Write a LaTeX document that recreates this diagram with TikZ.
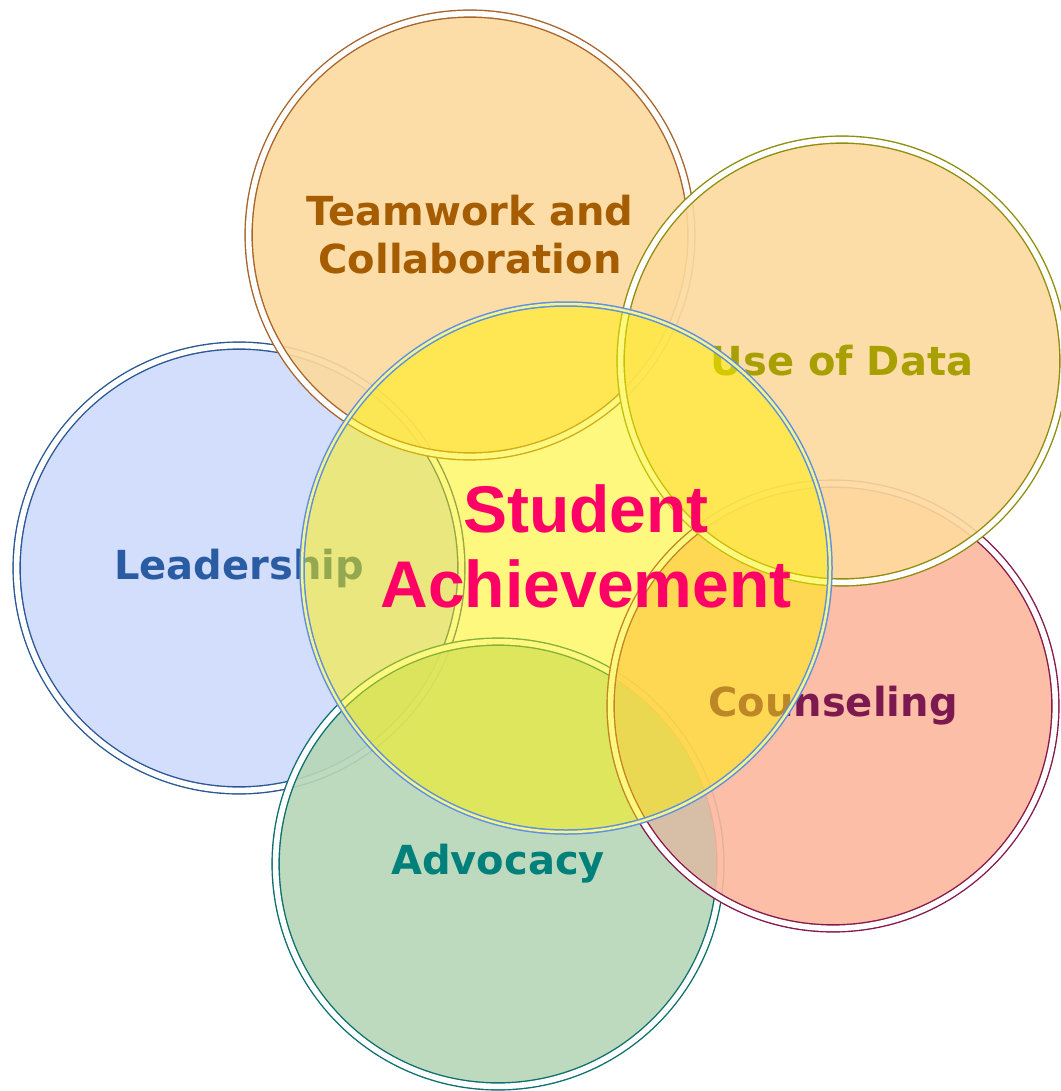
\documentclass[tikz,border=0pt]{standalone}
\usepackage{fontspec}
\newfontfamily\labfont{DejaVu Sans}
\newfontfamily\safont{Liberation Sans}
\definecolor{leadfill}{HTML}{CFDAFC}
\definecolor{leadline}{HTML}{2A5896}
\definecolor{leadtext}{HTML}{2A5CA4}
\definecolor{teamfill}{HTML}{FDDA9E}
\definecolor{teamline}{HTML}{A8642A}
\definecolor{teamtext}{HTML}{A65C00}
\definecolor{datafill}{HTML}{FDDA9E}
\definecolor{dataline}{HTML}{8E8E0C}
\definecolor{datatext}{HTML}{A8A000}
\definecolor{counfill}{HTML}{FDB79E}
\definecolor{counline}{HTML}{86184C}
\definecolor{countext}{HTML}{7C1A50}
\definecolor{advfill}{HTML}{B7D7B7}
\definecolor{advline}{HTML}{0C7070}
\definecolor{advtext}{HTML}{00807A}
\definecolor{advcoun}{HTML}{D4BFA8}
\definecolor{centerline}{HTML}{5D8FE5}
\definecolor{centergap}{HTML}{F4F48C}
\definecolor{satext}{HTML}{FF0066}
\tikzset{
  petal/.style={circle, inner sep=0pt, line width=1.4pt, double=white,
    double distance=5.6pt, fill opacity=0.9, text opacity=1, align=center,
    font=\labfont\bfseries\fontsize{40}{48}\selectfont},
}
\begin{document}
\begin{tikzpicture}[x=1pt,y=-1pt]
\useasboundingbox[fill=white] (0,0) rectangle (1060,1091);
\node[petal, minimum size=444.8pt, fill=leadfill, draw=leadline, text=leadtext] (lead) at (239,568) {Leadership};
\node[petal, minimum size=442.8pt, fill=teamfill, draw=teamline, text=teamtext] (team) at (470,235) {Teamwork and\\Collaboration};
\node[petal, minimum size=444.8pt, fill=advfill, draw=advline, text=advtext] (adv) at (498,864) {Advocacy};
\node[petal, minimum size=444.8pt, fill=counfill, draw=counline, text=countext] (coun) at (833,706) {Counseling};
\node[petal, minimum size=442.8pt, fill=datafill, draw=dataline, text=datatext] (data) at (842,361) {Use of Data};
\begin{scope}
  \clip (adv.center) circle (218);
  \fill[advcoun, opacity=0.92] (coun.center) circle (217.5);
\end{scope}
\node[circle, inner sep=0pt, minimum size=528pt, fill=yellow, fill opacity=0.5,
  draw=centerline, line width=1.5pt, double=centergap, double distance=2.5pt] (core) at (566,568) {};
\node[align=center, text=satext, font=\safont\bfseries\fontsize{66}{75}\selectfont] (satitle) at (586,546) {Student\\Achievement};
\end{tikzpicture}
\end{document}
